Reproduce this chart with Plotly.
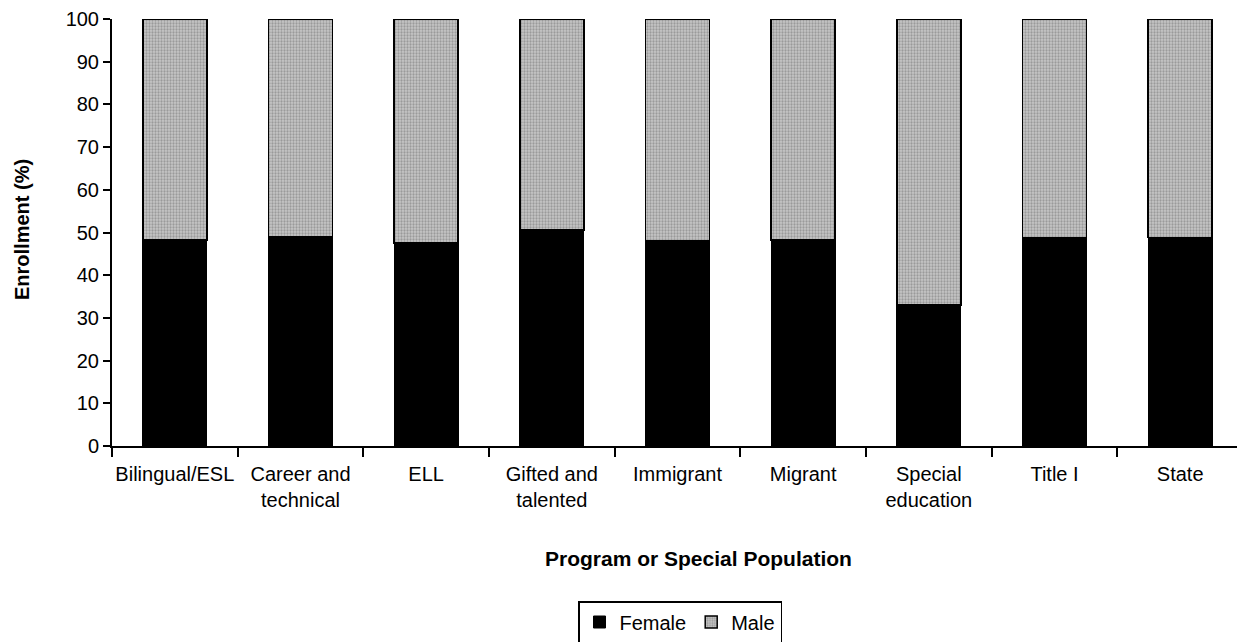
import plotly.graph_objects as go

categories = ["Bilingual/ESL", "Career and<br>technical", "ELL", "Gifted and<br>talented",
              "Immigrant", "Migrant", "Special<br>education", "Title I", "State"]
female = [48.2, 48.9, 47.6, 50.6, 48.0, 48.2, 33.0, 48.8, 48.8]
male = [round(100 - f, 1) for f in female]
y_ticks = [0, 10, 20, 30, 40, 50, 60, 70, 80, 90, 100]

FONT = "Liberation Sans, Arial, sans-serif"
OFF = 8  # page body margin

fig = go.Figure()
fig.add_trace(go.Bar(x=categories, y=female, name="Female",
                     marker=dict(color="#000000", line=dict(color="#000000", width=1))))
fig.add_trace(go.Bar(x=categories, y=male, name="Male",
                     marker=dict(color="#b0b0b0", line=dict(color="#000000", width=1.5),
                                 pattern=dict(shape=".", fgcolor="#6e6e6e", bgcolor="#c6c6c6",
                                              size=3, solidity=0.45))))

W, H = 1245 - OFF, 642 - OFF
L, R, T, B = 112 - OFF, 2, 19 - OFF, 196
pw = W - L - R
ph = H - T - B
y0 = T + ph + OFF  # screen y of axis bottom

fig.update_layout(
    width=W, height=H, barmode="stack", bargap=0.49,
    plot_bgcolor="white", paper_bgcolor="white",
    margin=dict(l=L, r=R, t=T, b=B, autoexpand=False),
    font=dict(family=FONT, size=20, color="#000000"),
    showlegend=True,
    legend=dict(orientation="h", x=(680 - OFF - L) / pw, xanchor="center",
                y=-(601 - y0) / ph, yanchor="top",
                bordercolor="#000000", borderwidth=1.5, font=dict(size=20),
                traceorder="normal", itemwidth=30),
    xaxis=dict(showline=True, linecolor="#000000", linewidth=2, ticks="outside",
               tickson="boundaries", ticklen=9, tickcolor="#000000", tickwidth=1.5,
               tickangle=0, tickfont=dict(size=20), showgrid=False, ticklabelstandoff=9),
    yaxis=dict(range=[0, 100], tickvals=y_ticks, showline=True, linecolor="#000000",
               linewidth=2, ticks="outside", ticklen=7, tickcolor="#000000", tickwidth=1.5,
               tickfont=dict(size=20), showgrid=False, zeroline=False),
    annotations=[
        dict(text="<b>Program or Special Population</b>", xref="paper", yref="paper",
             x=(698 - OFF - L) / pw, y=-(558 - y0) / ph, xanchor="center", yanchor="middle",
             showarrow=False, font=dict(size=21)),
        dict(text="<b>Enrollment (%)</b>", xref="paper", yref="paper",
             x=(22 - OFF - L) / pw, y=(y0 - 230) / ph, xanchor="center", yanchor="middle",
             textangle=-90, showarrow=False, font=dict(size=20)),
    ],
)

fig.write_html("out.html")
